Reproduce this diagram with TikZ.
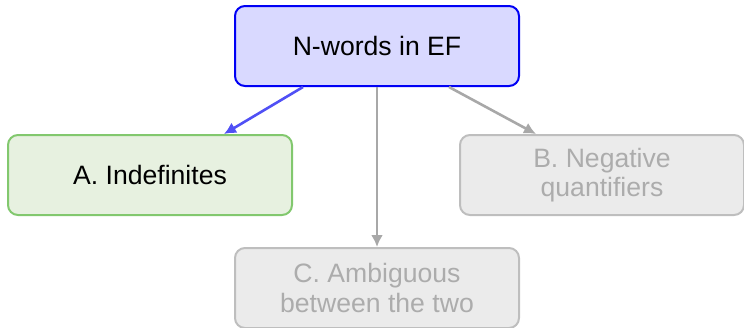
\documentclass[tikz,border=0pt]{standalone}
\usepackage{fontspec}
\setmainfont{Liberation Sans}
\usepackage{xcolor}
\usepackage{tikz}
\usetikzlibrary{arrows.meta, positioning}

\definecolor{rootfill}{RGB}{217,217,255}
\definecolor{rootdraw}{RGB}{0,0,245}
\definecolor{pickarrow}{RGB}{80,80,245}
\definecolor{pickfill}{RGB}{231,241,224}
\definecolor{pickdraw}{RGB}{130,200,110}
\definecolor{offfill}{RGB}{235,235,235}
\definecolor{offdraw}{RGB}{190,190,190}
\definecolor{offtext}{RGB}{172,172,172}
\definecolor{offarrow}{RGB}{168,168,168}

\begin{document}
\begin{tikzpicture}[
    x=0.5pt, y=-0.5pt,
    basebox/.style={
        rectangle,
        rounded corners=5pt,
        line width=1pt,
        align=center,
        minimum width=142pt,
        minimum height=40pt,
        inner sep=0pt,
        font=\fontsize{13.3}{14.6}\selectfont
    },
    rootbox/.style={
        basebox,
        draw=rootdraw,
        fill=rootfill,
        text=black
    },
    pickbox/.style={
        basebox,
        draw=pickdraw,
        fill=pickfill,
        text=black
    },
    offbox/.style={
        basebox,
        draw=offdraw,
        fill=offfill,
        text=offtext
    },
    pickline/.style={
        -{Latex[length=6pt, width=6pt]},
        line width=1.3pt,
        draw=pickarrow
    },
    offline/.style={
        -{Latex[length=6pt, width=6pt]},
        line width=1.3pt,
        draw=offarrow
    }
]

\useasboundingbox (0,0) rectangle (744,327);

% Root
\node[rootbox] (root) at (377,46) {N-words in EF};

% Readings
\node[pickbox] (indef) at (150,175) {A. Indefinites};
\node[offbox] (negq) at (602,175) {B. Negative\\quantifiers};
\node[offbox] (ambig) at (377,288) {C. Ambiguous\\between the two};

% Arrows
\draw[pickline] ([xshift=-37pt]root.south) -- ([xshift=37pt]indef.north);
\draw[offline] (root.south) -- (ambig.north);
\draw[offline] ([xshift=36pt]root.south) -- ([xshift=-33pt]negq.north);

\end{tikzpicture}
\end{document}
